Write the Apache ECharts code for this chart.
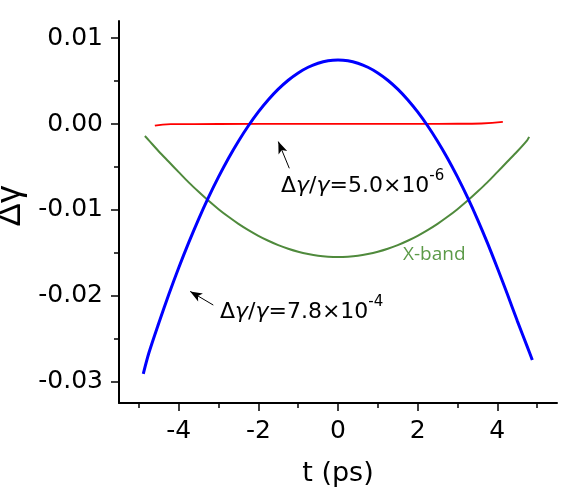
<!DOCTYPE html>
<html><head><meta charset="utf-8">
<script src="https://cdn.jsdelivr.net/npm/echarts@6/dist/echarts.min.js"></script>
<style>html,body{margin:0;padding:0;background:#fff}#c{width:581px;height:489px}</style>
</head><body><div id="c"></div>
<script>
// ---- data ----
const xTicks = [-4, -2, 0, 2, 4];
const xMinorTicks = [-5, -3, -1, 1, 3, 5];
const yTicks = [-0.03, -0.02, -0.01, 0, 0.01];
const yMinorTicks = [-0.025, -0.015, -0.005, 0.005];

const blueT = [-4.89, -4.75, -4.5, -4.25, -4.0, -3.75, -3.5, -3.25, -3.0, -2.75, -2.5, -2.25, -2.0, -1.75, -1.5, -1.25, -1.0, -0.75, -0.5, -0.25,
  0, 0.25, 0.5, 0.75, 1.0, 1.25, 1.5, 1.75, 2.0, 2.25, 2.5, 2.75, 3.0, 3.25, 3.5, 3.75, 4.0, 4.25, 4.5, 4.75, 4.88];
const blueV = [-0.0291, -0.02668, -0.02318, -0.01987, -0.01675, -0.01382, -0.01107, -0.00852, -0.00616, -0.00398, -0.00200, -0.00020, 0.00141, 0.00283, 0.00406, 0.00510, 0.00595, 0.00661, 0.00708, 0.00737,
  0.00746, 0.00737, 0.00708, 0.00661, 0.00595, 0.00510, 0.00406, 0.00283, 0.00141, -0.00020, -0.00200, -0.00398, -0.00616, -0.00852, -0.01107, -0.01382, -0.01675, -0.01978, -0.0229, -0.0259, -0.0275];

const greenT = [-4.85, -4.75, -4.5, -4.25, -4.0, -3.75, -3.5, -3.25, -3.0, -2.75, -2.5, -2.25, -2.0, -1.75, -1.5, -1.25, -1.0, -0.75, -0.5, -0.25,
  0, 0.25, 0.5, 0.75, 1.0, 1.25, 1.5, 1.75, 2.0, 2.25, 2.5, 2.75, 3.0, 3.25, 3.5, 3.75, 4.0, 4.25, 4.5, 4.75, 4.8];
const greenV = [-0.0014, -0.0019, -0.0032, -0.0044, -0.0056, -0.0068, -0.0079, -0.00895, -0.00992, -0.01081, -0.01163, -0.01236, -0.01302, -0.0136, -0.01411, -0.01453, -0.01488, -0.01515, -0.01535, -0.01546,
  -0.0155, -0.01546, -0.01535, -0.01515, -0.01488, -0.01453, -0.01411, -0.0136, -0.01302, -0.01236, -0.01163, -0.01081, -0.00992, -0.00895, -0.0079, -0.0068, -0.0056, -0.0044, -0.0032, -0.0019, -0.0015];

const redT = [-4.6, -4.2, -3.0, -1.0, 0, 1.0, 2.0, 3.0, 3.6, 4.14];
const redV = [-0.0002, -0.00002, 0.0, 0.00001, 0.00001, 0.00001, 0.00002, 0.00003, 0.00006, 0.00025];

const labelUpper = { text: '=5.0×10', sup: '-6', at: [-1.431, -0.00722], arrowFrom: [-1.223, -0.00516], arrowTo: [-1.499, -0.00205] };
const labelLower = { text: '=7.8×10', sup: '-4', at: [-2.963, -0.0219], arrowFrom: [-3.132, -0.02109], arrowTo: [-3.712, -0.0195] };
const bandLabel = { text: 'X-band', at: [1.632, -0.01526] };

const pairs = (t, v) => t.map((x, i) => [x, v[i]]);

const FONT = 'DejaVu Sans';
const annRich = {
  t: { fontFamily: FONT, fontSize: 22, color: '#000', lineHeight: 34 },
  i: { fontFamily: FONT, fontSize: 22, color: '#000', fontStyle: 'italic', lineHeight: 34 },
  s: { fontFamily: FONT, fontSize: 15, color: '#000', lineHeight: 15, verticalAlign: 'top' }
};
function annLabel(l) {
  return { show: true, position: 'right', distance: 0,
    formatter: '{t|Δ}{i|γ}{t|/}{i|γ}{t|' + l.text + '}{s|' + l.sup + '}', rich: annRich };
}

const chart = echarts.init(document.getElementById('c'), null, { renderer: 'canvas' });
const tickStyle = { color: '#000', width: 1.5 };
chart.setOption({
  animation: false,
  backgroundColor: '#fff',
  grid: { left: 119, right: 24, top: 21, bottom: 86, containLabel: false, outerBoundsMode: 'none' },
  xAxis: [{
    type: 'value', min: -5.5, max: 5.5, position: 'bottom',
    axisLine: { show: true, onZero: false, lineStyle: { color: '#000', width: 2 } },
    axisTick: { show: true, length: 8, lineStyle: tickStyle, customValues: xTicks },
    axisLabel: { customValues: xTicks, fontFamily: FONT, fontSize: 25, color: '#000', margin: 16, formatter: v => String(v) },
    splitLine: { show: false },
    name: 't (ps)', nameLocation: 'middle', nameGap: 57,
    nameTextStyle: { fontFamily: FONT, fontSize: 27, color: '#000' }
  }, {
    type: 'value', min: -5.5, max: 5.5, position: 'bottom',
    axisLine: { show: false, onZero: false },
    axisTick: { show: true, length: 5, lineStyle: tickStyle, customValues: xMinorTicks },
    axisLabel: { show: false }, splitLine: { show: false }
  }],
  yAxis: [{
    type: 'value', min: -0.0325, max: 0.012, position: 'left',
    axisLine: { show: true, onZero: false, lineStyle: { color: '#000', width: 2 } },
    axisTick: { show: true, length: 8, lineStyle: tickStyle, customValues: yTicks },
    axisLabel: { customValues: yTicks, fontFamily: FONT, fontSize: 25, color: '#000', margin: 16, formatter: v => v.toFixed(2) },
    splitLine: { show: false },
    name: 'Δγ', nameLocation: 'middle', nameGap: 86,
    nameTextStyle: { fontFamily: 'Liberation Sans', fontSize: 35, color: '#000', padding: [0, 0, 0, 12] }
  }, {
    type: 'value', min: -0.0325, max: 0.012, position: 'left',
    axisLine: { show: false, onZero: false },
    axisTick: { show: true, length: 5, lineStyle: tickStyle, customValues: yMinorTicks },
    axisLabel: { show: false }, splitLine: { show: false }
  }],
  series: [{
    name: 'X-band', type: 'line', xAxisIndex: 0, yAxisIndex: 0,
    data: pairs(greenT, greenV), smooth: 0.3, showSymbol: false,
    lineStyle: { color: '#4f8a3c', width: 2 }, z: 2,
    markPoint: { symbol: 'circle', symbolSize: 0, silent: true,
      data: [{ coord: bandLabel.at, label: { show: true, position: 'right', distance: 0, formatter: bandLabel.text,
        fontFamily: 'Open Sans', fontSize: 19, color: '#5c9a48' } }] }
  }, {
    name: 'red', type: 'line', xAxisIndex: 0, yAxisIndex: 0,
    data: pairs(redT, redV), smooth: true, showSymbol: false,
    lineStyle: { color: '#ff0000', width: 1.8 }, z: 3
  }, {
    name: 'blue', type: 'line', xAxisIndex: 0, yAxisIndex: 0,
    data: pairs(blueT, blueV), smooth: 0.3, showSymbol: false,
    lineStyle: { color: '#0000ff', width: 3 }, z: 4,
    markLine: {
      silent: true, symbol: ['none', 'arrow'], symbolSize: [7, 12],
      lineStyle: { color: '#000', width: 1, type: 'solid' },
      itemStyle: { color: '#000' },
      label: { show: false },
      data: [
        [{ coord: labelUpper.arrowFrom }, { coord: labelUpper.arrowTo }],
        [{ coord: labelLower.arrowFrom }, { coord: labelLower.arrowTo }]
      ]
    },
    markPoint: { symbol: 'circle', symbolSize: 0, silent: true,
      data: [{ coord: labelUpper.at, label: annLabel(labelUpper) },
             { coord: labelLower.at, label: annLabel(labelLower) }] }
  }]
});
</script></body></html>
